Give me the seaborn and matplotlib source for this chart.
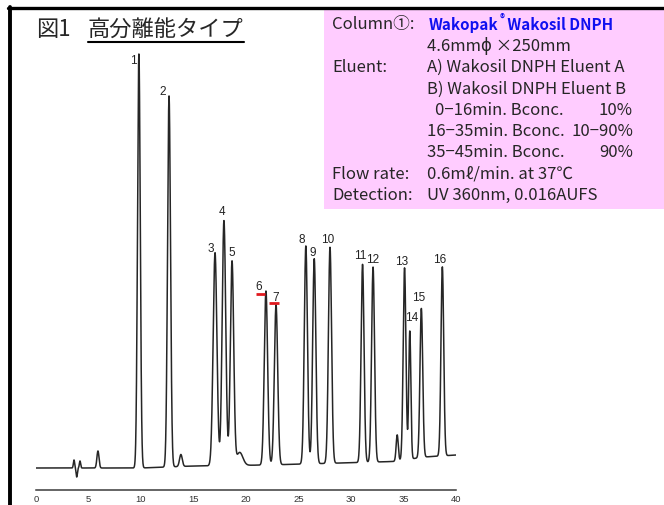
import numpy as np
import pandas as pd
import matplotlib
matplotlib.use("Agg")
import matplotlib.pyplot as plt
from matplotlib.lines import Line2D
from matplotlib.patches import Rectangle
import seaborn as sns

# ---------------- data ----------------
peak_labels = ["1", "2", "3", "4", "5", "6", "7", "8", "9", "10",
               "11", "12", "13", "14", "15", "16"]
peak_times = [9.8, 12.67, 17.05, 17.9, 18.67, 21.9, 22.86, 25.7, 26.5, 28.0,
              31.1, 32.1, 35.1, 35.6, 36.7, 38.7]
peak_heights = [414, 371, 213, 245, 204, 174, 160, 218, 205, 216,
                198, 195, 192, 128, 149, 189]
peak_widths = [0.13, 0.14, 0.18, 0.17, 0.16, 0.16, 0.16, 0.15, 0.15, 0.15,
               0.14, 0.14, 0.13, 0.10, 0.13, 0.13]

# minor (unlabelled) features of the trace
minor_times = [3.62, 3.88, 4.19, 5.9, 13.8, 19.4, 34.4]
minor_heights = [8, -9, 7, 17, 12, 13, 26]
minor_widths = [0.06, 0.06, 0.06, 0.1, 0.13, 0.3, 0.1]

# baseline drift knots
base_times = [0, 10, 15, 22, 29, 34, 37, 40]
base_levels = [0, 0, 2, 3, 5, 6.5, 11, 13]

# red marks next to peaks 6 and 7 (start time, end time, level)
red_start = [20.95, 22.19]
red_end = [21.81, 23.14]
red_level = [174, 165]

x_ticks = [0, 5, 10, 15, 20, 25, 30, 35, 40]

# label offsets (px: right, up) relative to each peak top
label_dx = [-6, -6, -4, -2, 0, -7, 0, -4, -2, -2, -2, 0, -3, 2, -3, -3]
label_dy = [-6, 5, 5, 10, 9, 5, 8, 7, 7, 8, 9, 8, 7, 14, 11, 8]

# ---------------- build trace ----------------
t = np.linspace(0, 40, 4001)
sig = np.interp(t, base_times, base_levels)
for c, h, w in zip(peak_times + minor_times, peak_heights + minor_heights,
                   peak_widths + minor_widths):
    sig = sig + h * np.exp(-0.5 * ((t - c) / w) ** 2)
df = pd.DataFrame({"time": t, "signal": sig})

# ---------------- figure ----------------
sns.set_style("white")
plt.rcParams["font.family"] = ["Noto Sans CJK JP", "DejaVu Sans"]

W, H = 664, 506
fig = plt.figure(figsize=(W / 100, H / 100), dpi=100)
fig.patch.set_facecolor("white")


def P(x, y):
    return x / W, 1 - y / H


# pink info box
fig.patches.append(Rectangle(P(324, 210), (664 - 324) / W, (210 - 10.5) / H,
                             transform=fig.transFigure, facecolor="#FFCCFF",
                             edgecolor="none", zorder=0))
# black frame lines (top and left)
fig.lines.append(Line2D([8 / W, 1], [1 - 9 / H, 1 - 9 / H], transform=fig.transFigure,
                        color="black", linewidth=2.4, zorder=5))
fig.lines.append(Line2D([10.3 / W, 10.3 / W], [1 - 8 / H, 0], transform=fig.transFigure,
                        color="black", linewidth=2.8, zorder=5))

# axes: x 0..40 -> px 36..456, bottom spine at px 491, baseline at px 469
ax_bottom, ax_top = 491, 40
ax = fig.add_axes([36 / W, 1 - ax_bottom / H, 420 / W, (ax_bottom - ax_top) / H])
ax.set_facecolor("none")
sns.lineplot(data=df, x="time", y="signal", ax=ax, color="#262626", linewidth=1.1,
             estimator=None, sort=False)
ax.set_xlim(0, 40)
ax.set_ylim(-(ax_bottom - 469), 469 - ax_top)
for s in ["left", "top", "right"]:
    ax.spines[s].set_visible(False)
ax.spines["bottom"].set_color("#3a3a3a")
ax.spines["bottom"].set_linewidth(1.1)
ax.set_yticks([])
ax.set_xticks(x_ticks)
ax.set_xticklabels([str(v) for v in x_ticks], fontsize=6.8, color="#333333",
                   family=["Liberation Sans", "DejaVu Sans"])
ax.tick_params(axis="x", direction="in", length=4, width=1, color="#3a3a3a", pad=3)
ax.set_xlabel("")
ax.set_ylabel("")

# peak labels
for lab, tt, hh, dx, dy in zip(peak_labels, peak_times, peak_heights, label_dx, label_dy):
    top = hh + float(np.interp(tt, base_times, base_levels))
    ax.annotate(lab, xy=(tt, top), xytext=(dx * 0.72, dy * 0.72), textcoords="offset points",
                ha="center", va="center", fontsize=8.5, color="#222222",
                family=["Liberation Sans", "DejaVu Sans"])

# red marks
ax.hlines(red_level, red_start, red_end, colors="#E0191E", linewidth=2.0)

# ---------------- title ----------------
fig.text(*P(36, 30), "図1", fontsize=16, va="center", ha="left")
title2 = fig.text(*P(88, 30), "高分離能タイプ", fontsize=16, va="center", ha="left")

# ---------------- info text ----------------
fs = 12.0
fsb = 10.9
lines_y = [25 + 21.3 * i for i in range(9)]
label_x, value_x = 332, 427
fig.text(*P(label_x, lines_y[0]), "Column①:", fontsize=fs, va="center")
fig.text(*P(label_x, lines_y[2]), "Eluent:", fontsize=fs, va="center")
fig.text(*P(label_x, lines_y[7]), "Flow rate:", fontsize=fs, va="center")
fig.text(*P(label_x, lines_y[8]), "Detection:", fontsize=fs, va="center")

w1 = fig.text(*P(429, lines_y[0]), "Wakopak", fontsize=fsb, va="center",
              color="#1010F0", weight="bold")
fig.text(*P(value_x, lines_y[1]), "4.6mm\u03d5 ×250mm", fontsize=fs, va="center")
fig.text(*P(value_x, lines_y[2]), "A) Wakosil DNPH Eluent A", fontsize=fs, va="center")
fig.text(*P(value_x, lines_y[3]), "B) Wakosil DNPH Eluent B", fontsize=fs, va="center")
fig.text(*P(435, lines_y[4]), "0−16min. Bconc.", fontsize=fs, va="center")
fig.text(*P(value_x, lines_y[5]), "16−35min. Bconc.", fontsize=fs, va="center")
fig.text(*P(value_x, lines_y[6]), "35−45min. Bconc.", fontsize=fs, va="center")
for i, s in zip([4, 5, 6], ["10%", "10−90%", "90%"]):
    fig.text(*P(633, lines_y[i]), s, fontsize=fs, va="center", ha="right")
fig.text(*P(value_x, lines_y[7]), "0.6mℓ/min. at 37℃", fontsize=fs, va="center")
fig.text(*P(value_x, lines_y[8]), "UV 360nm, 0.016AUFS", fontsize=fs, va="center")

fig.canvas.draw()
r = fig.canvas.get_renderer()
bb = w1.get_window_extent(r)
reg = fig.text(bb.x1 / W + 0.5 / W, 1 - (lines_y[0] - 6) / H, "®", fontsize=7,
               va="center", color="#1010F0", weight="bold")
fig.canvas.draw()
bb2 = reg.get_window_extent(r)
fig.text(bb2.x1 / W, 1 - lines_y[0] / H, " Wakosil DNPH", fontsize=fsb, va="center",
         color="#1010F0", weight="bold")

# underline of the title
tb = title2.get_window_extent(r)
fig.lines.append(Line2D([tb.x0 / W, tb.x1 / W], [1 - 43 / H, 1 - 43 / H],
                        transform=fig.transFigure, color="black", linewidth=1.5))

fig.savefig("out.png", dpi=100)
